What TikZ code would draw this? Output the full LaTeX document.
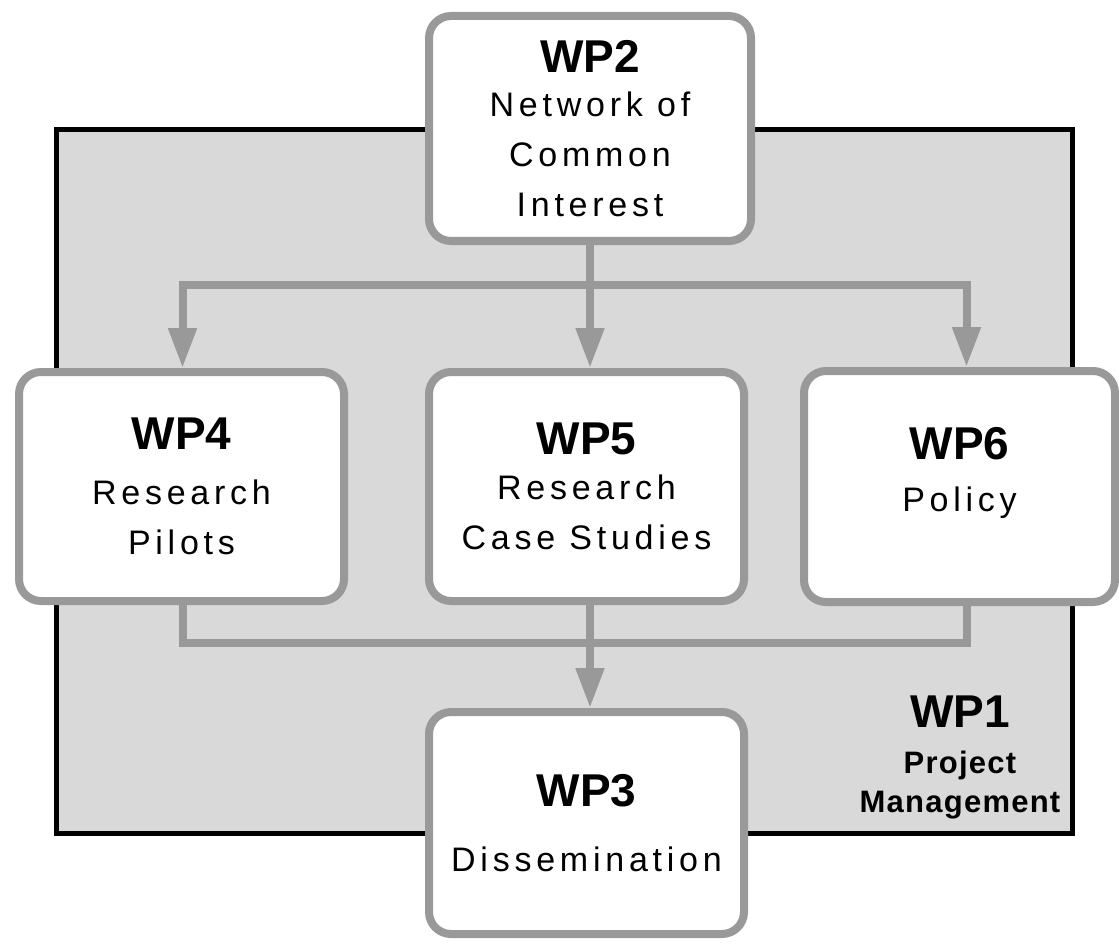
\documentclass[tikz,border=0pt]{standalone}
\usepackage{fontspec}
\setmainfont{Liberation Sans}
\newfontfamily\subfamily[LetterSpace=14]{Liberation Sans}
\newfontfamily\pmfamily[LetterSpace=4]{Liberation Sans}
\usepackage{tikz}
\usetikzlibrary{arrows.meta}
\definecolor{wpline}{HTML}{999999}
\definecolor{wpback}{HTML}{D9D9D9}
\newcommand{\wpfont}{\normalfont\bfseries\fontsize{46}{50}\selectfont}
\newcommand{\subfont}{\subfamily\fontsize{34}{50}\selectfont}
\newcommand{\pmfont}{\pmfamily\bfseries\fontsize{31}{39}\selectfont}
\tikzset{
  every block/.style={
    rectangle,
    draw=wpline,
    line width=8pt,
    rounded corners=22pt,
    fill=white,
    inner sep=0pt,
    align=center,
    font=\subfont
  },
}
\tikzstyle{block} = [every block]
\tikzstyle{link} = [draw=wpline, line width=8pt]
\tikzstyle{arrow} = [link, -{Triangle[width=27pt,length=40pt]}]

\begin{document}
\begin{tikzpicture}[x=1pt, y=-1pt]
        \useasboundingbox (0,0) rectangle (1119,944);
        % background
        \node [draw=black, line width=5pt, fill=wpback, inner sep=0pt, minimum width=1015.5pt, minimum height=703.5pt] (wp1box) at (564.25,481.25) {};
        \node [font=\pmfont, align=center] (wp1) at (960,757) {{\wpfont WP1}\\[7pt]Project\\Management};

        % blocks
        \node [block, minimum width=322pt, minimum height=225pt] (wp2) at (590,128.5) {{\wpfont WP2}\\[-6pt]Network of\\Common\\Interest};
        \node [block, minimum width=325pt, minimum height=229pt] (wp4) at (181.5,486.5) {{\wpfont WP4}\\[5pt]Research\\Pilots};
        \node [block, minimum width=315pt, minimum height=229pt] (wp5) at (586.5,486.5) {{\wpfont WP5}\\[-5pt]Research\\Case Studies};
        \node [block, minimum width=311pt, minimum height=231pt] (wp6) at (959.5,486.5) {{\wpfont WP6}\\[2pt]Policy\\[-16pt]\mbox{}};
        \node [block, minimum width=315pt, minimum height=222pt] (wp3) at (586.5,823) {{\wpfont WP3}\\[15pt]Dissemination};

        % junctions
        \coordinate (split) at (590,285);
        \coordinate (merge) at (590,643);

        % arrows
        \draw [link] (wp2.south -| split) -- (split);
        \draw [arrow] (split) -| ([xshift=1pt]wp4.north);
        \draw [arrow] (split) -| ([xshift=7pt]wp6.north);
        \draw [arrow] (split) -- (split |- wp5.north);
        \draw [link] ([xshift=1pt]wp4.south) |- (merge) -| ([xshift=7pt]wp6.south);
        \draw [arrow] (merge |- wp5.south) -- (merge |- wp3.north);
    \end{tikzpicture}
\end{document}
